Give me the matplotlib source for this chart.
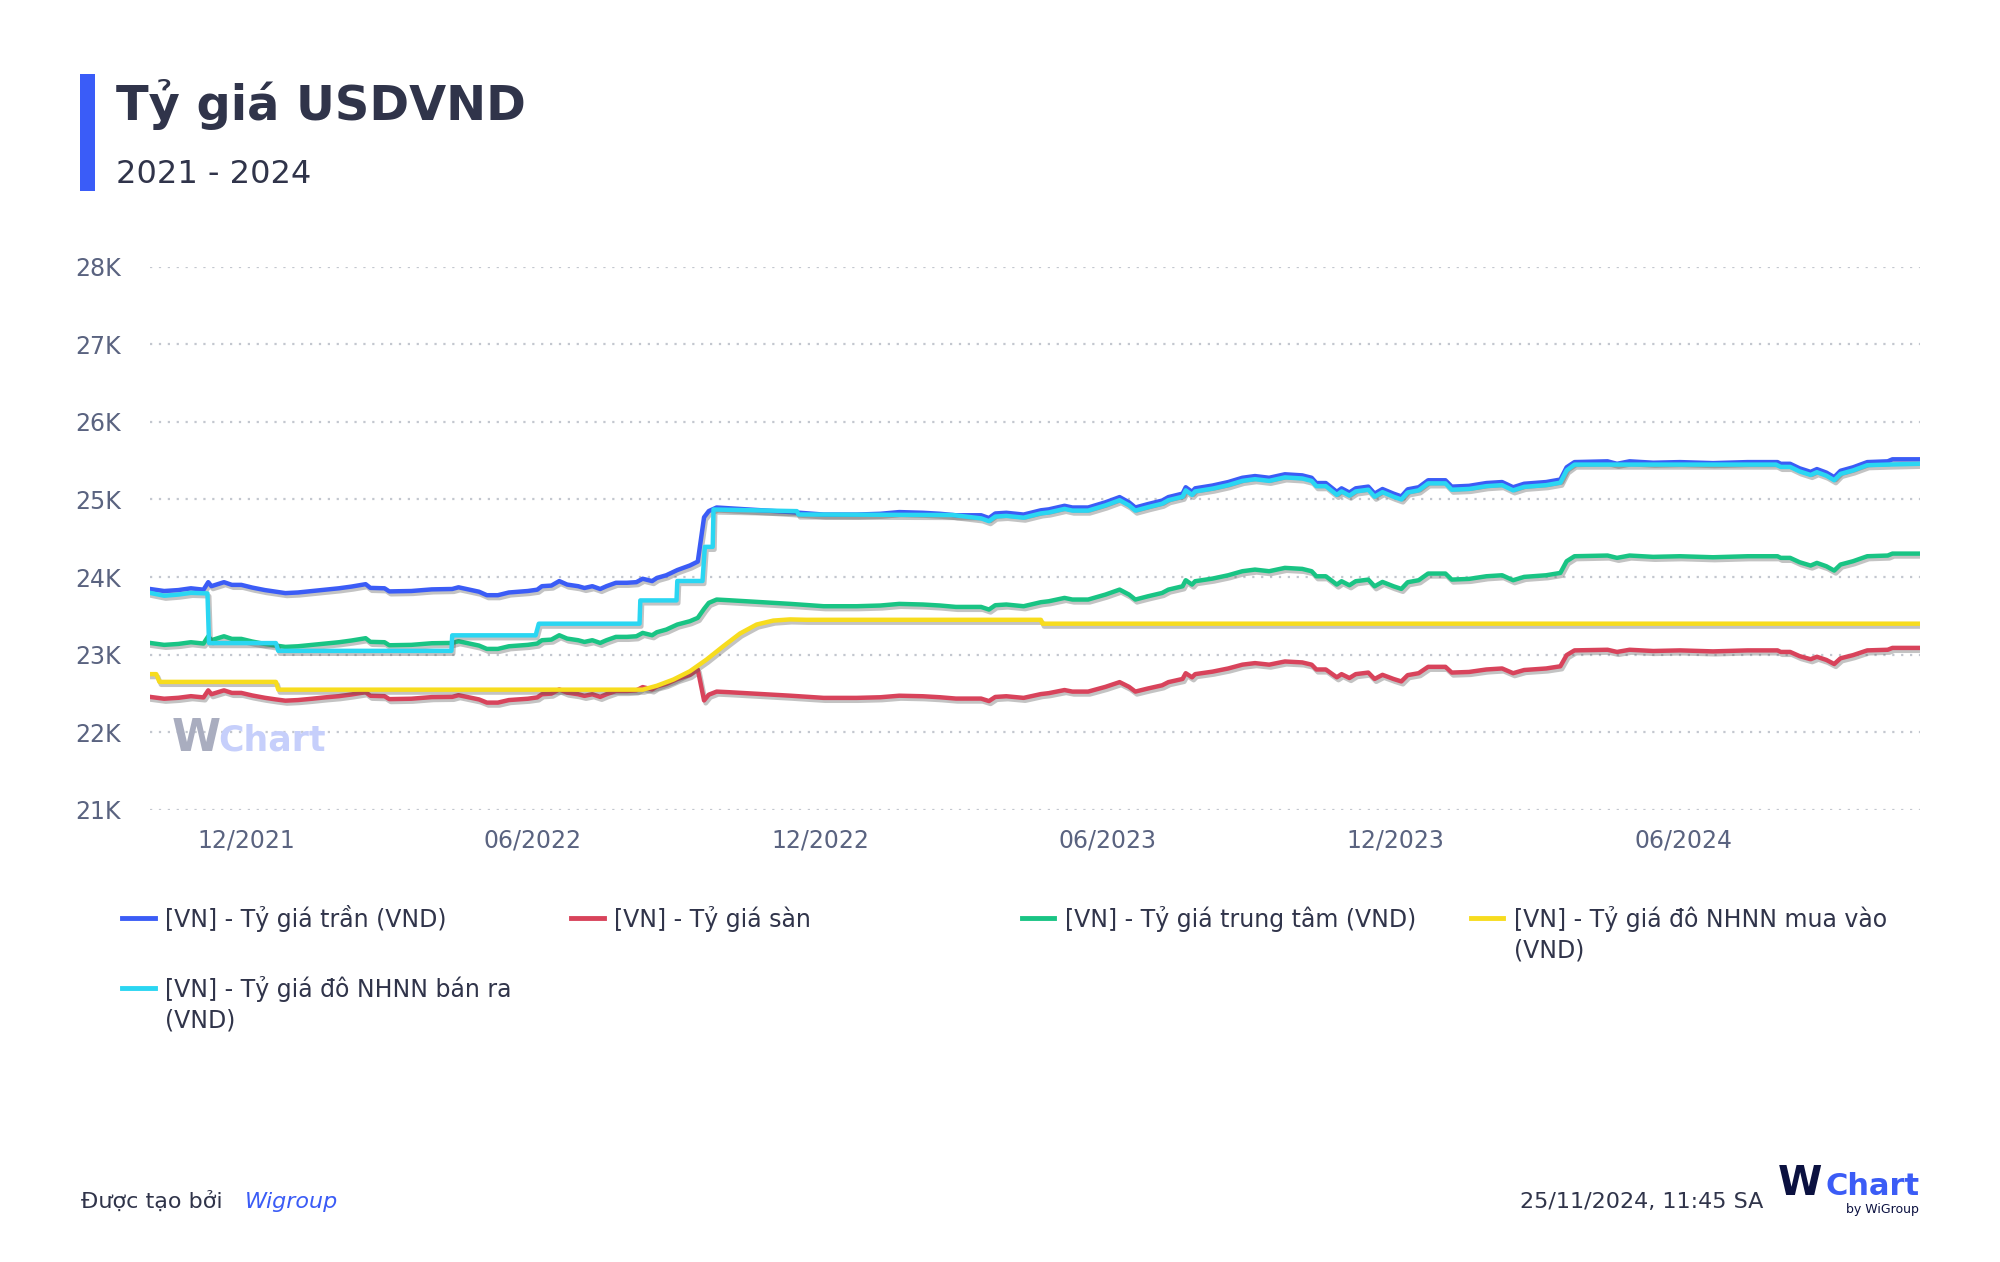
import numpy as np
import pandas as pd
import matplotlib
matplotlib.use("Agg")
import matplotlib.pyplot as plt
import matplotlib.dates as mdates
import matplotlib.patheffects as pe
from matplotlib.lines import Line2D
from matplotlib.patches import Rectangle

plt.rcParams['font.family'] = ['DejaVu Sans']

START = pd.Timestamp('2021-10-01')

# days after START
band_days = [0, 9, 18, 26, 34, 37, 39, 47, 52, 58, 65, 73, 80, 86, 94, 103, 111, 120, 128, 137,
             140, 149, 152, 166, 179, 192, 196, 203, 209, 214, 221, 228, 240, 246, 249, 255, 260, 265, 272, 276,
             281, 286, 290, 296, 303, 309, 313, 319, 322, 328, 335, 343, 348, 352, 355, 360, 368, 385, 407, 428,
             449, 464, 476, 491, 502, 512, 528, 533, 537, 544, 555, 566, 571, 581, 586, 596, 607, 616, 622, 626,
             634, 643, 647, 656, 658, 662, 664, 675, 685, 694, 702, 711, 721, 732, 738, 741, 747, 754, 757, 762,
             766, 774, 778, 783, 790, 795, 799, 806, 812, 823, 827, 838, 849, 859, 866, 873, 887, 896, 900, 905,
             926, 932, 940, 955, 972, 993, 1015, 1034, 1036, 1042, 1048, 1055, 1059, 1065, 1070, 1074, 1082, 1091, 1104, 1107,
             1114, 1124]

central_vnd = [23152, 23127, 23139, 23161, 23144, 23238, 23187, 23238, 23204, 23204, 23170, 23139, 23118, 23101, 23109, 23127, 23144, 23161, 23183, 23213,
               23166, 23161, 23122, 23127, 23148, 23152, 23174, 23144, 23118, 23075, 23075, 23109, 23127, 23144, 23187, 23195, 23251, 23208, 23187, 23165,
               23187, 23152, 23187, 23230, 23230, 23238, 23281, 23251, 23290, 23324, 23389, 23432, 23475, 23591, 23668, 23711, 23702, 23681, 23655, 23625,
               23625, 23634, 23655, 23647, 23634, 23616, 23616, 23582, 23638, 23647, 23625, 23677, 23689, 23732, 23711, 23711, 23775, 23839, 23775, 23711,
               23753, 23796, 23839, 23882, 23960, 23904, 23947, 23981, 24024, 24076, 24097, 24076, 24119, 24106, 24076, 24011, 24011, 23904, 23947, 23895,
               23947, 23968, 23882, 23938, 23882, 23848, 23934, 23960, 24046, 24046, 23968, 23977, 24011, 24024, 23960, 24003, 24024, 24054, 24205, 24269,
               24278, 24248, 24278, 24261, 24269, 24256, 24269, 24269, 24248, 24248, 24192, 24149, 24183, 24140, 24084, 24162, 24205, 24269, 24278, 24303,
               24303, 24303]

ceiling_vnd = [23847, 23821, 23833, 23856, 23838, 23935, 23883, 23935, 23900, 23900, 23865, 23833, 23812, 23794, 23802, 23821, 23838, 23856, 23878, 23909,
               23861, 23856, 23816, 23821, 23842, 23847, 23869, 23838, 23812, 23767, 23767, 23802, 23821, 23838, 23883, 23891, 23949, 23904, 23883, 23860,
               23883, 23847, 23883, 23927, 23927, 23935, 23979, 23949, 23989, 24024, 24091, 24150, 24200, 24771, 24851, 24897, 24887, 24865, 24838, 24806,
               24806, 24816, 24838, 24829, 24816, 24797, 24797, 24761, 24820, 24829, 24806, 24861, 24873, 24919, 24897, 24897, 24964, 25031, 24964, 24897,
               24941, 24986, 25031, 25076, 25158, 25099, 25144, 25180, 25225, 25280, 25302, 25280, 25325, 25311, 25280, 25212, 25212, 25099, 25144, 25090,
               25144, 25166, 25076, 25135, 25076, 25040, 25131, 25158, 25248, 25248, 25166, 25176, 25212, 25225, 25158, 25203, 25225, 25257, 25415, 25482,
               25492, 25460, 25492, 25474, 25482, 25469, 25482, 25482, 25460, 25460, 25402, 25356, 25392, 25347, 25288, 25370, 25415, 25482, 25492, 25518,
               25518, 25518]

floor_vnd = [22457, 22433, 22445, 22466, 22450, 22541, 22491, 22541, 22508, 22508, 22475, 22445, 22424, 22408, 22416, 22433, 22450, 22466, 22488, 22517,
             22471, 22466, 22428, 22433, 22454, 22457, 22479, 22450, 22424, 22383, 22383, 22416, 22433, 22450, 22491, 22499, 22553, 22512, 22491, 22470,
             22491, 22457, 22491, 22533, 22533, 22541, 22583, 22553, 22591, 22624, 22687, 22740, 22810, 22411, 22485, 22525, 22517, 22497, 22472, 22444,
             22444, 22452, 22472, 22465, 22452, 22435, 22435, 22403, 22456, 22465, 22444, 22493, 22505, 22545, 22525, 22525, 22586, 22647, 22586, 22525,
             22565, 22606, 22647, 22688, 22762, 22709, 22750, 22782, 22823, 22872, 22892, 22872, 22913, 22901, 22872, 22810, 22810, 22709, 22750, 22700,
             22750, 22770, 22688, 22741, 22688, 22656, 22737, 22762, 22844, 22844, 22770, 22778, 22810, 22823, 22762, 22803, 22823, 22851, 22995, 23056,
             23064, 23036, 23064, 23048, 23056, 23043, 23056, 23056, 23036, 23036, 22982, 22942, 22974, 22933, 22880, 22954, 22995, 23056, 23064, 23088,
             23088, 23088]

buy_days = [0, 4, 6, 80, 81.5, 313, 322, 332.5, 343, 353.6, 364.2, 374.8, 385.4, 396, 406.6, 417, 566, 567, 1124]
buy_vnd = [22750, 22750, 22650, 22650, 22550, 22550, 22600, 22680, 22787, 22938, 23109, 23273, 23389, 23440, 23455, 23450, 23450, 23400, 23400]

sell_days = [0, 9, 18, 26, 36.5, 37.5, 80, 81.5, 191.5, 192, 245, 247, 311, 311.5, 334.5, 335, 351, 352.5, 357.5, 358,
             411, 412, 510, 528, 533, 537, 544, 555, 566, 571, 581, 586, 596, 607, 616, 622, 626, 634, 643, 647,
             656, 658, 662, 664, 675, 685, 694, 702, 711, 721, 732, 738, 741, 747, 754, 757, 762, 766, 774, 778,
             783, 790, 795, 799, 806, 812, 823, 827, 838, 849, 859, 866, 873, 887, 896, 900, 905, 1033, 1036, 1042,
             1048, 1055, 1059, 1065, 1070, 1074, 1082, 1091, 1104, 1124]
sell_vnd = [23797, 23760, 23775, 23797, 23790, 23150, 23150, 23050, 23050, 23250, 23250, 23400, 23400, 23700, 23700, 23950, 23950, 24390, 24390, 24871,
            24850, 24807, 24800, 24757, 24721, 24780, 24789, 24766, 24821, 24833, 24879, 24857, 24857, 24924, 24991, 24924, 24857, 24901, 24946, 24991,
            25036, 25118, 25059, 25104, 25140, 25185, 25240, 25262, 25240, 25285, 25271, 25240, 25172, 25172, 25059, 25104, 25050, 25104, 25126, 25036,
            25095, 25036, 25000, 25091, 25118, 25208, 25208, 25126, 25136, 25172, 25185, 25118, 25163, 25185, 25217, 25375, 25450, 25450, 25420, 25420,
            25362, 25316, 25352, 25307, 25248, 25330, 25375, 25442, 25450, 25460]

END_DAY = 1124.5

series_names = ['[VN] - Tỷ giá trần (VND)', '[VN] - Tỷ giá sàn', '[VN] - Tỷ giá trung tâm (VND)',
                '[VN] - Tỷ giá đô NHNN mua vào\n(VND)', '[VN] - Tỷ giá đô NHNN bán ra\n(VND)']
colors = ['#3b5cf6', '#d8435b', '#19c484', '#f7dc1e', '#2ad6f2']

y_ticks = [21000, 22000, 23000, 24000, 25000, 26000, 27000, 28000]


def to_dates(days):
    return START + pd.to_timedelta(np.array(days, dtype=float), unit='D')


text_dark = '#30344a'
tick_col = '#5a6380'

fig = plt.figure(figsize=(20, 12.62), dpi=100)
ax = fig.add_axes([0.075, 0.3582, 0.885, 0.4305])

shadow = [pe.SimpleLineShadow(offset=(1.2, -2.0), shadow_color='#555555', alpha=0.35, linewidth=3.4),
          pe.Normal()]

plot_data = [(band_days, ceiling_vnd), (band_days, floor_vnd), (band_days, central_vnd),
             (buy_days, buy_vnd), (sell_days, sell_vnd)]
for (d, v), c in zip(plot_data, colors):
    ax.plot(to_dates(d), v, color=c, lw=3.2, solid_joinstyle='round', path_effects=shadow, zorder=3)

ax.set_xlim(START, START + pd.Timedelta(days=END_DAY))
ax.set_ylim(21000, 28000)
ax.set_yticks(y_ticks)
ax.set_yticklabels([f'{v // 1000}K' for v in y_ticks])
ax.xaxis.set_major_locator(mdates.MonthLocator(bymonth=[6, 12]))
ax.xaxis.set_major_formatter(mdates.DateFormatter('%m/%Y'))
ax.tick_params(axis='both', length=0, labelsize=17, labelcolor=tick_col)
ax.tick_params(axis='y', pad=21)
ax.tick_params(axis='x', pad=13)
for s in ax.spines.values():
    s.set_visible(False)
ax.yaxis.grid(True, linestyle=(0, (1, 3)), color='#c3c7cf', linewidth=1.6)
ax.set_axisbelow(True)

# title block
fig.add_artist(Rectangle((0.0402, 0.8487), 0.0075, 0.0927, transform=fig.transFigure,
                         color='#3a5cf8', lw=0))
fig.text(0.058, 0.9049, 'Tỷ giá USDVND', fontsize=34.5, fontweight='bold', color=text_dark, va='baseline')
fig.text(0.058, 0.855, '2021 - 2024', fontsize=23, color=text_dark, va='baseline')

# watermark
fig.text(0.086, 0.405, 'W', fontsize=32, fontweight='bold', color='#a9adbf', va='baseline')
fig.text(0.109, 0.405, 'Chart', fontsize=25, fontweight='bold', color='#c6cffb', va='baseline')

# legend
col_x = [0.0612, 0.2857, 0.5108, 0.7353]
row_y = [0.2726, 0.2171]
line_step = 0.0235
for i, (name, c) in enumerate(zip(series_names, colors)):
    x0 = col_x[i % 4]
    y0 = row_y[i // 4]
    fig.add_artist(Line2D([x0, x0 + 0.0162], [y0, y0], transform=fig.transFigure, color=c, lw=3.5))
    for k, part in enumerate(name.split('\n')):
        fig.text(x0 + 0.0215, y0 - 0.0075 - k * line_step, part, fontsize=17, color=text_dark,
                 va='baseline')

# footer
fig.text(0.0403, 0.0428, 'Được tạo bởi', fontsize=16, color=text_dark, va='baseline')
fig.text(0.1225, 0.0428, 'Wigroup', fontsize=16, color='#3b5cf6', style='italic', va='baseline')
fig.text(0.8815, 0.0428, '25/11/2024, 11:45 SA', fontsize=16, color=text_dark, va='baseline', ha='right')
fig.text(0.889, 0.0531, 'W', fontsize=29, fontweight='bold', color='#0b1140', va='baseline')
fig.text(0.9128, 0.0531, 'Chart', fontsize=22, fontweight='bold', color='#3b5cf6', va='baseline', ha='left')
fig.text(0.9595, 0.0385, 'by WiGroup', fontsize=9, color='#0b1140', va='baseline', ha='right')

fig.savefig('out.png', dpi=100, facecolor='white')
